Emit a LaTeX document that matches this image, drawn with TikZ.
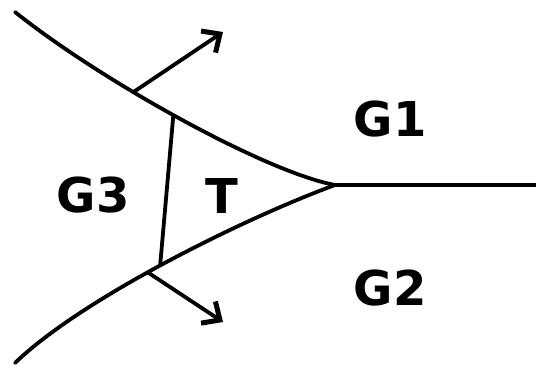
\documentclass[tikz,border=0pt]{standalone}
\usepackage{fontspec}
\setmainfont{DejaVu Sans}
\usetikzlibrary{arrows.meta}
\tikzset{
  boundary/.style={line width=3.8pt, line cap=round, line join=round},
  normalarrow/.style={line width=3.8pt, line cap=round, -{Straight Barb[length=14pt,width=26pt,line width=5pt]}},
  grainlabel/.style={font=\fontsize{48}{48}\selectfont\bfseries, inner sep=0pt, anchor=base}
}
\begin{document}
\begin{tikzpicture}[x=1pt,y=-1pt]
\useasboundingbox (0,0) rectangle (536,367);
\coordinate (tp) at (335,185);
\coordinate (topstart) at (15,12);
\coordinate (botend) at (15,363);
\coordinate (rightend) at (536,185);
\coordinate (tipA) at (223,32);
\coordinate (tipB) at (223,322);
% top boundary G1/G3
\draw[boundary] (topstart) .. controls (100,80) and (265,172) .. (tp)
  coordinate[pos=0.37] (arrA) coordinate[pos=0.48] (jA);
% bottom boundary G2/G3
\draw[boundary] (tp) .. controls (240,220) and (80,300) .. (botend)
  coordinate[pos=0.545] (arrB) coordinate[pos=0.51] (jB);
% G1/G2 boundary
\draw[boundary] (tp) -- (rightend);
% T/G3 boundary
\draw[boundary] (jA) -- (jB);
% arrows
\draw[normalarrow] (arrA) -- (tipA);
\draw[normalarrow] (arrB) -- (tipB);
% labels
\node[grainlabel] (g1) at (390,136) {G1};
\node[grainlabel] (g2) at (390,305) {G2};
\node[grainlabel] (g3) at (93,212) {G3};
\node[grainlabel] (t) at (222,213) {T};
\end{tikzpicture}
\end{document}
